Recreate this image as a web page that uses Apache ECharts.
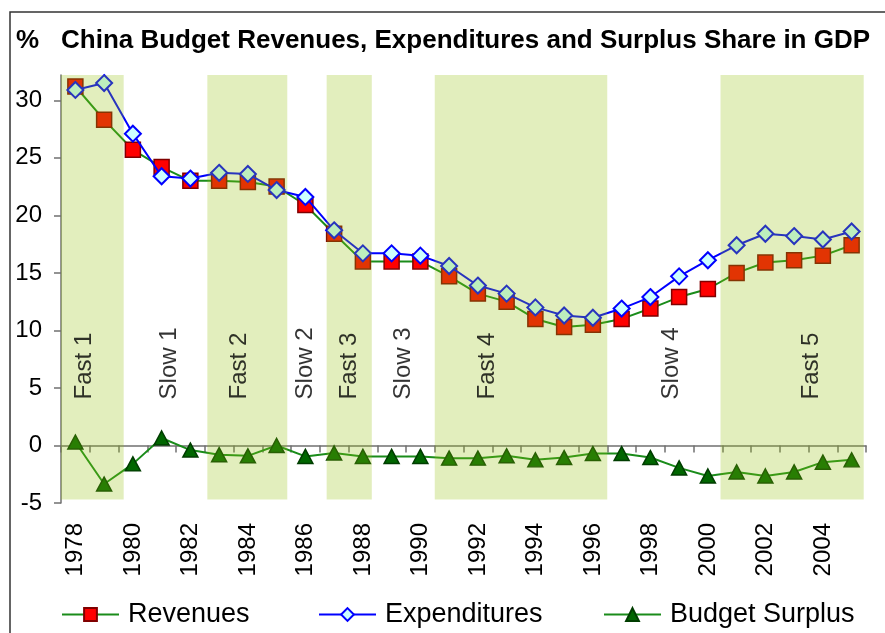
<!DOCTYPE html>
<html>
<head>
<meta charset="utf-8">
<script src="https://cdn.jsdelivr.net/npm/echarts@6/dist/echarts.min.js"></script>
<style>
html, body { margin: 0; padding: 0; background: #fff; }
#chart { width: 885px; height: 633px; }
</style>
</head>
<body>
<div id="chart"></div>
<script>
var years = ['1978', '1979', '1980', '1981', '1982', '1983', '1984', '1985', '1986', '1987',
    '1988', '1989', '1990', '1991', '1992', '1993', '1994', '1995', '1996', '1997',
    '1998', '1999', '2000', '2001', '2002', '2003', '2004', '2005'];
var revenues = [31.2, 28.3, 25.7, 24.2, 23.0, 23.0, 22.9, 22.5, 20.9, 18.4,
    16.0, 16.0, 16.0, 14.7, 13.2, 12.5, 11.0, 10.3, 10.5, 11.0,
    11.9, 12.9, 13.6, 15.0, 15.9, 16.1, 16.5, 17.4];
var expenditures = [30.9, 31.5, 27.1, 23.4, 23.2, 23.7, 23.6, 22.2, 21.6, 18.7,
    16.7, 16.7, 16.5, 15.6, 13.9, 13.2, 12.0, 11.3, 11.1, 11.9,
    12.9, 14.7, 16.1, 17.4, 18.4, 18.2, 17.9, 18.6];
var surplus = [0.3, -3.35, -1.6, 0.65, -0.4, -0.8, -0.9, 0.0, -0.95, -0.65,
    -0.95, -0.95, -0.95, -1.1, -1.1, -0.9, -1.25, -1.05, -0.7, -0.7,
    -1.05, -1.95, -2.65, -2.3, -2.65, -2.3, -1.45, -1.25];

// shaded "fast" periods, in category slots (0 = left edge of 1978)
var bandStart = [0, 5.09, 9.24, 13.0, 22.94];
var bandEnd = [2.18, 7.87, 10.81, 19.0, 27.92];

// phase names and where they sit (slot units)
var phaseNames = ['Fast 1', 'Slow 1', 'Fast 2', 'Slow 2', 'Fast 3', 'Slow 3', 'Fast 4', 'Slow 4', 'Fast 5'];
var phasePos = [0.82, 3.78, 6.21, 8.51, 10.04, 11.92, 14.84, 21.24, 26.11];

var yTicks = [-5, 0, 5, 10, 15, 20, 25, 30];
var yMax = 32.2;

var font = 'Liberation Sans, Arial, sans-serif';

var chart = echarts.init(document.getElementById('chart'));

var bands = [];
for (var i = 0; i < bandStart.length; i++) {
    bands.push([{ xAxis: bandStart[i], yAxis: -4.7 }, { xAxis: bandEnd[i], yAxis: yMax }]);
}
var phases = [];
for (var j = 0; j < phaseNames.length; j++) {
    phases.push({ name: phaseNames[j], value: [phasePos[j], 4] });
}

var option = {
    animation: false,
    textStyle: { fontFamily: font },
    title: [{
        text: '%',
        left: 16, top: 28, padding: 0,
        textStyle: { fontSize: 26, fontWeight: 'bold', color: '#000', fontFamily: font }
    }, {
        text: 'China Budget Revenues, Expenditures and Surplus Share in GDP',
        left: 61, top: 28, padding: 0,
        textStyle: { fontSize: 26, fontWeight: 'bold', color: '#000', fontFamily: font }
    }],
    graphic: [{
        type: 'rect',
        shape: { x: 10, y: 12, width: 900, height: 700 },
        style: { fill: 'none', stroke: '#333', lineWidth: 1.5 },
        silent: true
    }],
    legend: [{
        data: ['Revenues'], left: 61, top: 601, padding: 0,
        itemWidth: 57, itemHeight: 16,
        textStyle: { fontSize: 27, color: '#000', fontFamily: font, padding: [0, 0, 0, 4] }
    }, {
        data: ['Expenditures'], left: 318, top: 601, padding: 0,
        itemWidth: 57, itemHeight: 16,
        textStyle: { fontSize: 27, color: '#000', fontFamily: font, padding: [0, 0, 0, 4] }
    }, {
        data: ['Budget Surplus'], left: 603, top: 601, padding: 0,
        itemWidth: 57, itemHeight: 16,
        textStyle: { fontSize: 27, color: '#000', fontFamily: font, padding: [0, 0, 0, 4] }
    }],
    grid: { left: 61, right: 19, top: 75, bottom: 130, containLabel: false },
    xAxis: [{
        // axis line through zero with ticks
        type: 'category',
        data: years,
        position: 'bottom',
        axisLine: { onZero: true, lineStyle: { color: '#707070', width: 1.5 } },
        axisTick: { show: true, interval: 0, length: 7, lineStyle: { color: '#707070', width: 1.5 } },
        axisLabel: { show: false },
        splitLine: { show: false }
    }, {
        // year labels along the bottom
        type: 'category',
        data: years,
        position: 'bottom',
        axisLine: { show: false, onZero: false },
        axisTick: { show: false },
        axisLabel: {
            show: true, interval: 1, rotate: 90, margin: 20,
            fontSize: 24, color: '#000', fontFamily: font
        },
        splitLine: { show: false }
    }, {
        type: 'value',
        min: 0, max: 28,
        show: false
    }],
    yAxis: {
        type: 'value',
        min: -5, max: yMax, interval: 5,
        axisLine: { show: true, onZero: false, lineStyle: { color: '#707070', width: 1.5 } },
        axisTick: { show: true, length: 7, customValues: yTicks, lineStyle: { color: '#707070', width: 1.5 } },
        axisLabel: {
            margin: 19, fontSize: 24, color: '#000', fontFamily: font,
            customValues: yTicks
        },
        splitLine: { show: false }
    },
    series: [{
        name: 'Budget Surplus',
        type: 'line',
        data: surplus,
        z: 2,
        symbol: 'triangle',
        symbolSize: [15, 14],
        lineStyle: { color: '#1A8C1A', width: 2 },
        itemStyle: { color: '#006600', borderColor: '#003d00', borderWidth: 1.5 }
    }, {
        name: 'Revenues',
        type: 'line',
        data: revenues,
        z: 3,
        symbol: 'rect',
        symbolSize: 15,
        lineStyle: { color: '#1A8C1A', width: 2 },
        itemStyle: { color: '#FF0000', borderColor: '#800000', borderWidth: 1.5 }
    }, {
        name: 'Expenditures',
        type: 'line',
        data: expenditures,
        z: 4,
        symbol: 'diamond',
        symbolSize: 16,
        lineStyle: { color: '#0000FF', width: 2 },
        itemStyle: { color: '#CCFFFF', borderColor: '#0000FF', borderWidth: 2 }
    }, {
        name: 'bands',
        type: 'line',
        xAxisIndex: 2,
        data: [],
        zlevel: 1,
        z: 10,
        silent: true,
        markArea: {
            silent: true,
            z: 10,
            itemStyle: { color: 'rgba(146,191,11,0.27)' },
            data: bands
        }
    }, {
        name: 'phases',
        type: 'scatter',
        xAxisIndex: 2,
        data: phases,
        zlevel: 2,
        z: 12,
        symbolSize: 1,
        silent: true,
        itemStyle: { color: 'rgba(0,0,0,0)' },
        label: {
            show: true,
            position: 'inside',
            rotate: 90,
            align: 'left',
            verticalAlign: 'middle',
            formatter: '{b}',
            fontSize: 24,
            color: '#000',
            fontFamily: font
        }
    }]
};

chart.setOption(option);
</script>
</body>
</html>
